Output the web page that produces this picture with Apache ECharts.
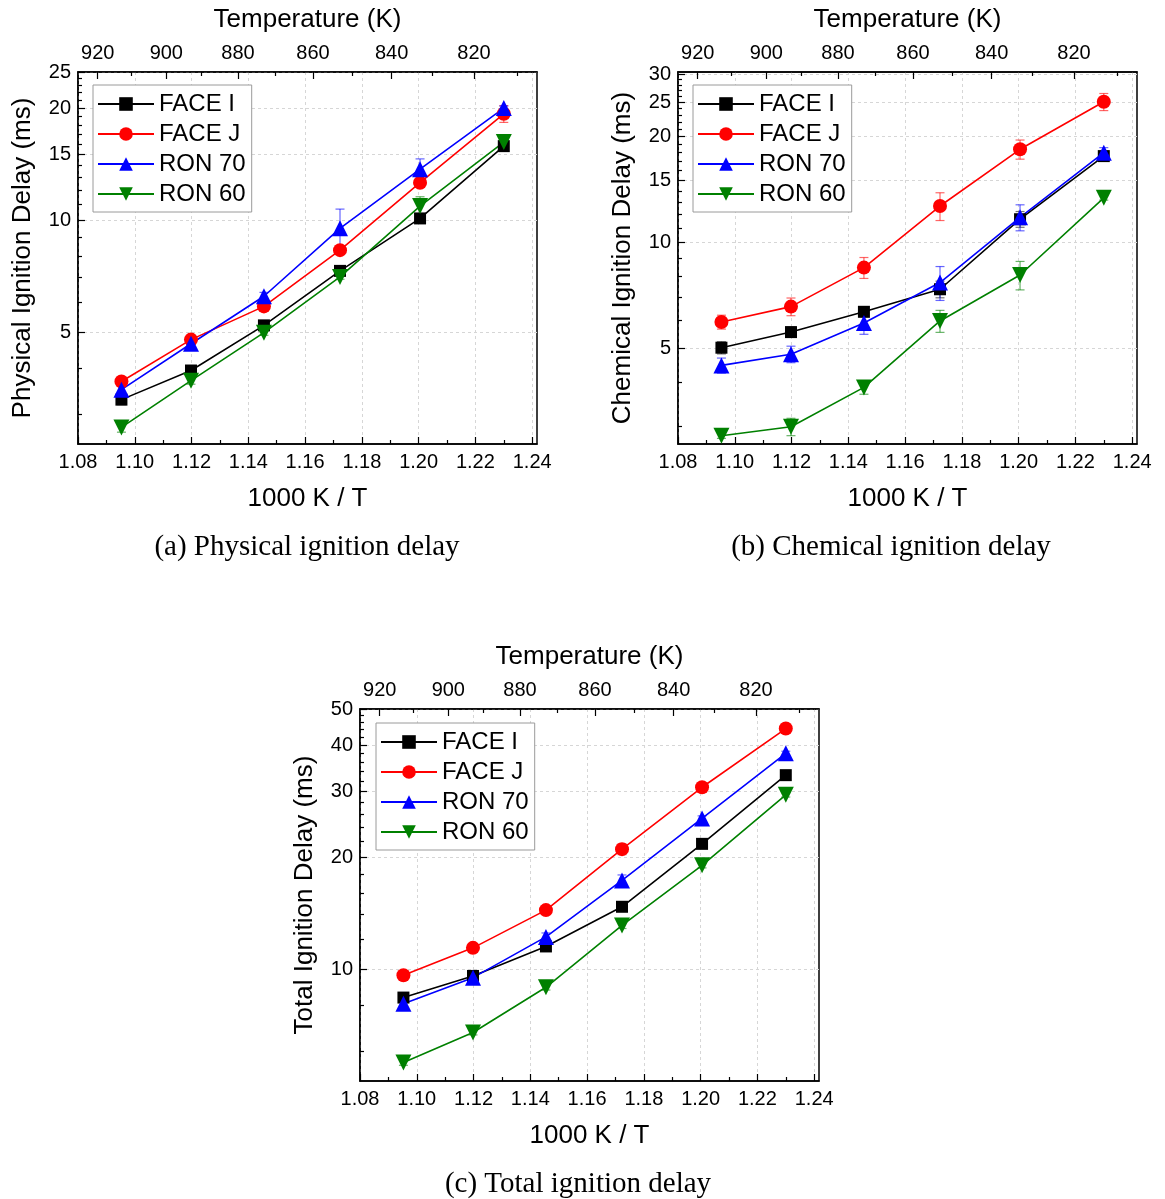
<!DOCTYPE html>
<html>
<head>
<meta charset="utf-8">
<title>Ignition delay</title>
<script src="https://cdn.jsdelivr.net/npm/echarts@6/dist/echarts.min.js"></script>
<style>
  html, body { margin: 0; padding: 0; background: #ffffff; }
  #chart { width: 1165px; height: 1199px; }
</style>
</head>
<body>
<div id="chart"></div>
<script>
// Inverse temperature of the six operating points (1000 K / T)
const invT = [1.0953, 1.1198, 1.1455, 1.1723, 1.2005, 1.2300];

const fuelNames = ['FACE I', 'FACE J', 'RON 70', 'RON 60'];

// Physical ignition delay (ms)
const physFaceI = [3.29, 3.94, 5.21, 7.30, 10.1, 15.8];
const physFaceJ = [3.68, 4.77, 5.86, 8.30, 12.6, 19.3];
const physRon70 = [3.50, 4.65, 6.24, 9.50, 13.7, 20.0];
const physRon60 = [2.77, 3.70, 4.98, 7.03, 10.9, 16.2];
const physErrFaceI = [0.10, 0.08, 0.08, 0.10, 0.15, 0.20];
const physErrFaceJ = [0.08, 0.08, 0.10, 0.12, 0.25, 1.00];
const physErrRon70 = [0.10, 0.15, 0.15, 1.20, 0.90, 0.25];
const physErrRon60 = [0.08, 0.08, 0.08, 0.10, 0.65, 0.25];

// Chemical ignition delay (ms)
const chemFaceI = [5.03, 5.57, 6.36, 7.37, 11.65, 17.6];
const chemFaceJ = [5.95, 6.58, 8.49, 12.7, 18.4, 25.1];
const chemRon70 = [4.48, 4.82, 5.91, 7.70, 11.8, 18.0];
const chemRon60 = [2.83, 3.00, 3.88, 5.99, 8.09, 13.4];
const chemErrFaceI = [0.20, 0.18, 0.20, 0.40, 0.60, 0.45];
const chemErrFaceJ = [0.27, 0.38, 0.58, 1.15, 1.15, 1.40];
const chemErrRon70 = [0.22, 0.26, 0.42, 0.85, 1.00, 0.60];
const chemErrRon60 = [0.05, 0.17, 0.17, 0.43, 0.75, 0.20];

// Total ignition delay (ms)
const totFaceI = [8.38, 9.58, 11.5, 14.7, 21.7, 33.2];
const totFaceJ = [9.62, 11.4, 14.4, 21.0, 30.8, 44.3];
const totRon70 = [8.06, 9.48, 12.2, 17.3, 25.4, 38.0];
const totRon60 = [5.61, 6.75, 8.93, 13.1, 19.0, 29.4];
const totErrFaceI = [0.15, 0.15, 0.20, 0.30, 0.40, 0.50];
const totErrFaceJ = [0.15, 0.20, 0.30, 0.70, 0.50, 0.60];
const totErrRon70 = [0.15, 0.15, 0.30, 0.60, 0.40, 0.50];
const totErrRon60 = [0.10, 0.10, 0.15, 0.25, 0.30, 0.40];

// Tick values
const xTicks = [1.08, 1.10, 1.12, 1.14, 1.16, 1.18, 1.20, 1.22, 1.24];
const xMinorTicks = [1.09, 1.11, 1.13, 1.15, 1.17, 1.19, 1.21, 1.23];
const tempTicks = [920, 900, 880, 860, 840, 820];
const tempMinorTicks = [910, 890, 870, 850, 830, 810];
const physTicks = [5, 10, 15, 20, 25];
const physMinorTicks = [3, 4, 6, 7, 8, 9, 11, 12, 13, 14, 16, 17, 18, 19, 21, 22, 23, 24];
const chemTicks = [5, 10, 15, 20, 25, 30];
const chemMinorTicks = [3, 4, 6, 7, 8, 9, 11, 12, 13, 14, 16, 17, 18, 19, 21, 22, 23, 24, 26, 27, 28, 29];
const totTicks = [10, 20, 30, 40, 50];
const totMinorTicks = [6, 8, 12, 14, 16, 18, 22, 24, 26, 28, 32, 34, 36, 38, 42, 44, 46, 48];

const captions = ['(a) Physical ignition delay', '(b) Chemical ignition delay', '(c) Total ignition delay'];

const SANS = "'Liberation Sans', Arial, sans-serif";
const SERIF = "'Liberation Serif', 'Times New Roman', serif";
const X_MIN = 1.08, X_MAX = 1.2417;

const lineColors = ['#000000', '#ff0000', '#0000ff', '#008000'];
const errColors = ['rgba(0,0,0,0.55)', 'rgba(255,0,0,0.6)', 'rgba(0,0,255,0.6)', 'rgba(0,128,0,0.6)'];
const symbols = ['rect', 'circle', 'triangle', 'triangle'];
const symbolSizes = [12, 14, 16, 16];
const symbolRotates = [0, 0, 0, 180];

const panels = [
  { left: 78, top: 72, yName: 'Physical Ignition Delay (ms)', yMin: 2.5, yMax: 25,
    ticks: physTicks, minor: physMinorTicks,
    values: [physFaceI, physFaceJ, physRon70, physRon60],
    errors: [physErrFaceI, physErrFaceJ, physErrRon70, physErrRon60],
    legend: { left: 93, top: 85 }, caption: { x: 307, y: 547 } },
  { left: 678, top: 72, yName: 'Chemical Ignition Delay (ms)', yMin: 2.68, yMax: 30.5,
    ticks: chemTicks, minor: chemMinorTicks,
    values: [chemFaceI, chemFaceJ, chemRon70, chemRon60],
    errors: [chemErrFaceI, chemErrFaceJ, chemErrRon70, chemErrRon60],
    legend: { left: 693, top: 85 }, caption: { x: 891, y: 547 } },
  { left: 360, top: 709, yName: 'Total Ignition Delay (ms)', yMin: 5, yMax: 50,
    ticks: totTicks, minor: totMinorTicks,
    values: [totFaceI, totFaceJ, totRon70, totRon60],
    errors: [totErrFaceI, totErrFaceJ, totErrRon70, totErrRon60],
    legend: { left: 376, top: 723 }, caption: { x: 578, y: 1184 } }
];
const PLOT_W = 459, PLOT_H = 372;

const grids = [], xAxes = [], yAxes = [], legends = [], series = [], graphics = [];
const axisLineStyle = { color: '#000', width: 1.5 };
const gridLineStyle = { color: '#d6d6d6', width: 1, type: [3, 3] };

function errorBarRenderer(color) {
  return function (params, api) {
    const x = api.value(0);
    const top = api.coord([x, api.value(2)]);
    const bot = api.coord([x, api.value(1)]);
    const hw = 4.5;
    const style = { stroke: color, lineWidth: 1.2, fill: null };
    return {
      type: 'group',
      children: [
        { type: 'line', shape: { x1: top[0], y1: top[1], x2: bot[0], y2: bot[1] }, style },
        { type: 'line', shape: { x1: top[0] - hw, y1: top[1], x2: top[0] + hw, y2: top[1] }, style },
        { type: 'line', shape: { x1: bot[0] - hw, y1: bot[1], x2: bot[0] + hw, y2: bot[1] }, style }
      ]
    };
  };
}

panels.forEach((p, gi) => {
  grids.push({
    left: p.left, top: p.top, width: PLOT_W, height: PLOT_H,
    show: true, borderColor: '#000', borderWidth: 1.5, backgroundColor: 'transparent'
  });

  const xBase = { type: 'value', gridIndex: gi, min: X_MIN, max: X_MAX };
  // bottom axis: 1000 K / T
  xAxes.push(Object.assign({}, xBase, {
    position: 'bottom',
    name: '1000 K / T', nameLocation: 'middle', nameGap: 42,
    nameTextStyle: { fontFamily: SANS, fontSize: 26, color: '#000' },
    axisLine: { show: true, lineStyle: axisLineStyle },
    axisTick: { show: true, inside: true, length: 7, customValues: xTicks, lineStyle: { color: '#000', width: 1.2 } },
    axisLabel: { customValues: xTicks, formatter: v => v.toFixed(2), fontFamily: SANS, fontSize: 20, color: '#000', margin: 8 },
    splitLine: { show: true, lineStyle: gridLineStyle }
  }));
  xAxes.push(Object.assign({}, xBase, {
    position: 'bottom',
    axisLine: { show: false },
    axisTick: { show: true, inside: true, length: 4, customValues: xMinorTicks, lineStyle: { color: '#000', width: 1.2 } },
    axisLabel: { show: false }, splitLine: { show: false }
  }));
  // top axis: temperature
  xAxes.push(Object.assign({}, xBase, {
    position: 'top',
    name: 'Temperature (K)', nameLocation: 'middle', nameGap: 39,
    nameTextStyle: { fontFamily: SANS, fontSize: 26, color: '#000' },
    axisLine: { show: true, lineStyle: axisLineStyle },
    axisTick: { show: true, inside: true, length: 7, customValues: tempTicks.map(t => 1000 / t), lineStyle: { color: '#000', width: 1.2 } },
    axisLabel: {
      customValues: tempTicks.map(t => 1000 / t),
      formatter: v => String(tempTicks.find(t => Math.abs(1000 / t - v) < 1e-6)),
      fontFamily: SANS, fontSize: 20, color: '#000', margin: 9
    },
    splitLine: { show: false }
  }));
  xAxes.push(Object.assign({}, xBase, {
    position: 'top',
    axisLine: { show: false },
    axisTick: { show: true, inside: true, length: 4, customValues: tempMinorTicks.map(t => 1000 / t), lineStyle: { color: '#000', width: 1.2 } },
    axisLabel: { show: false }, splitLine: { show: false }
  }));

  const yBase = { type: 'log', logBase: 10, gridIndex: gi, min: p.yMin, max: p.yMax, position: 'left' };
  yAxes.push(Object.assign({}, yBase, {
    name: p.yName, nameLocation: 'middle', nameGap: 42, nameRotate: 90,
    nameTextStyle: { fontFamily: SANS, fontSize: 26, color: '#000' },
    axisLine: { show: true, lineStyle: axisLineStyle },
    axisTick: { show: true, inside: true, length: 7, customValues: p.ticks, lineStyle: { color: '#000', width: 1.2 } },
    axisLabel: { customValues: p.ticks, formatter: v => String(v), fontFamily: SANS, fontSize: 20, color: '#000', margin: 7 },
    splitLine: { show: true, lineStyle: gridLineStyle }
  }));
  yAxes.push(Object.assign({}, yBase, {
    axisLine: { show: false },
    axisTick: { show: true, inside: true, length: 4, customValues: p.minor, lineStyle: { color: '#000', width: 1.2 } },
    axisLabel: { show: false }, splitLine: { show: false }
  }));

  fuelNames.forEach((name, k) => {
    const vals = p.values[k], errs = p.errors[k];
    series.push({
      type: 'custom', name: name + ' error', xAxisIndex: gi * 4, yAxisIndex: gi * 2,
      renderItem: errorBarRenderer(errColors[k]), silent: true, z: 1,
      data: invT.map((x, i) => [x, vals[i] - errs[i], vals[i] + errs[i]])
    });
    series.push({
      type: 'line', name: name, xAxisIndex: gi * 4, yAxisIndex: gi * 2, z: 2,
      data: invT.map((x, i) => [x, vals[i]]),
      symbol: symbols[k], symbolSize: symbolSizes[k], symbolRotate: symbolRotates[k],
      itemStyle: { color: lineColors[k] },
      lineStyle: { color: lineColors[k], width: 1.6 }
    });
  });

  legends.push({
    data: fuelNames, orient: 'vertical', left: p.legend.left, top: p.legend.top,
    itemWidth: 56, itemHeight: 17, itemGap: 6, padding: [7, 6, 6, 4],
    borderColor: '#9a9a9a', borderWidth: 1, backgroundColor: '#ffffff',
    selectedMode: false,
    textStyle: { fontFamily: SANS, fontSize: 24, color: '#000' }
  });

  graphics.push({
    type: 'text', x: p.caption.x, y: p.caption.y,
    style: { text: captions[gi], font: '29px ' + SERIF, fill: '#000', textAlign: 'center', textVerticalAlign: 'middle' }
  });
});

const chart = echarts.init(document.getElementById('chart'), null, { renderer: 'canvas' });
chart.setOption({
  animation: false,
  backgroundColor: '#ffffff',
  grid: grids,
  xAxis: xAxes,
  yAxis: yAxes,
  legend: legends,
  series: series,
  graphic: graphics
});
</script>
</body>
</html>
